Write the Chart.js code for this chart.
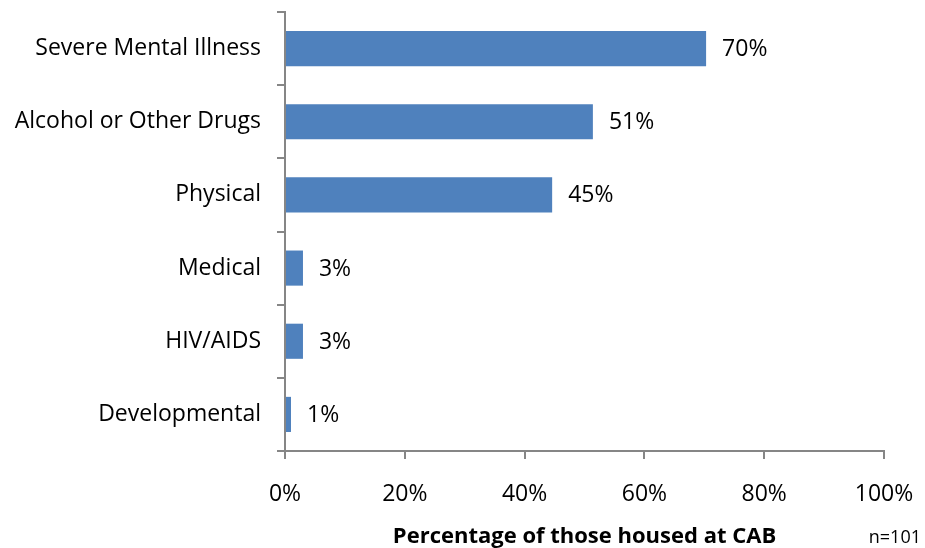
<!DOCTYPE html>
<html>
<head>
<meta charset="utf-8">
<script src="https://cdn.jsdelivr.net/npm/chart.js@4"></script>
<style>
  html, body { margin: 0; padding: 0; background: #fff; }
  #wrap { width: 925px; height: 548px; }
</style>
</head>
<body>
<div id="wrap"><canvas id="grafico" width="925" height="548"></canvas></div>
<script>
const categorias = ['Severe Mental Illness', 'Alcohol or Other Drugs', 'Physical', 'Medical', 'HIV/AIDS', 'Developmental'];
const valores = [70.3, 51.4, 44.6, 3, 3, 1];
const rotulos = ['70%', '51%', '45%', '3%', '3%', '1%'];
const ticksX = [0, 20, 40, 60, 80, 100];
const tituloX = 'Percentage of those housed at CAB';
const nota = 'n=101';

const fonte = "'Open Sans', 'Noto Sans', sans-serif";
const cinza = '#868686';

// rótulos de valor à direita das barras + nota n=101
const pluginRotulos = {
  id: 'rotulos',
  afterDatasetsDraw(chart) {
    const ctx = chart.ctx;
    const meta = chart.getDatasetMeta(0);
    ctx.save();
    ctx.fillStyle = '#000';
    ctx.font = '23px ' + fonte;
    ctx.textBaseline = 'middle';
    ctx.textAlign = 'left';
    meta.data.forEach((bar, i) => {
      ctx.fillText(rotulos[i], bar.x + 16, bar.y + 1);
    });
    ctx.font = '18px ' + fonte;
    ctx.textAlign = 'right';
    ctx.textBaseline = 'alphabetic';
    ctx.fillText(nota, 921, 543);
    ctx.restore();
  }
};

new Chart(document.getElementById('grafico').getContext('2d'), {
  type: 'bar',
  data: {
    labels: categorias,
    datasets: [{
      data: valores,
      backgroundColor: '#4F81BD',
      borderWidth: 0,
      barPercentage: 0.48,
      categoryPercentage: 1
    }]
  },
  options: {
    indexAxis: 'y',
    responsive: false,
    animation: false,
    layout: { padding: { top: 12, right: 41, left: 0, bottom: 0 } },
    plugins: {
      legend: { display: false },
      tooltip: { enabled: false }
    },
    scales: {
      x: {
        min: 0,
        max: 100,
        afterBuildTicks: (axis) => { axis.ticks = ticksX.map(v => ({ value: v })); },
        afterFit: (axis) => {
          axis.height = 97;
          axis.paddingLeft = 0;
          axis.paddingRight = 0;
        },
        ticks: {
          color: '#000',
          font: { family: fonte, size: 23 },
          padding: 22,
          maxRotation: 0,
          callback: (v) => v + '%'
        },
        grid: {
          drawOnChartArea: false,
          drawTicks: true,
          tickLength: 8,
          color: cinza,
          lineWidth: 2
        },
        border: { color: cinza, width: 2 },
        title: {
          display: true,
          text: tituloX,
          color: '#000',
          font: { family: fonte, size: 22, weight: 'bold', lineHeight: 1 },
          padding: { top: 0, bottom: 0 }
        }
      },
      y: {
        afterFit: (axis) => {
          axis.width = 285;
          axis.paddingTop = 0;
          axis.paddingBottom = 0;
        },
        ticks: {
          color: '#000',
          font: { family: fonte, size: 23 },
          padding: 16
        },
        grid: {
          offset: true,
          drawOnChartArea: false,
          drawTicks: true,
          tickLength: 8,
          color: cinza,
          lineWidth: 2
        },
        border: { color: cinza, width: 2 }
      }
    }
  },
  plugins: [pluginRotulos]
});
</script>
</body>
</html>
